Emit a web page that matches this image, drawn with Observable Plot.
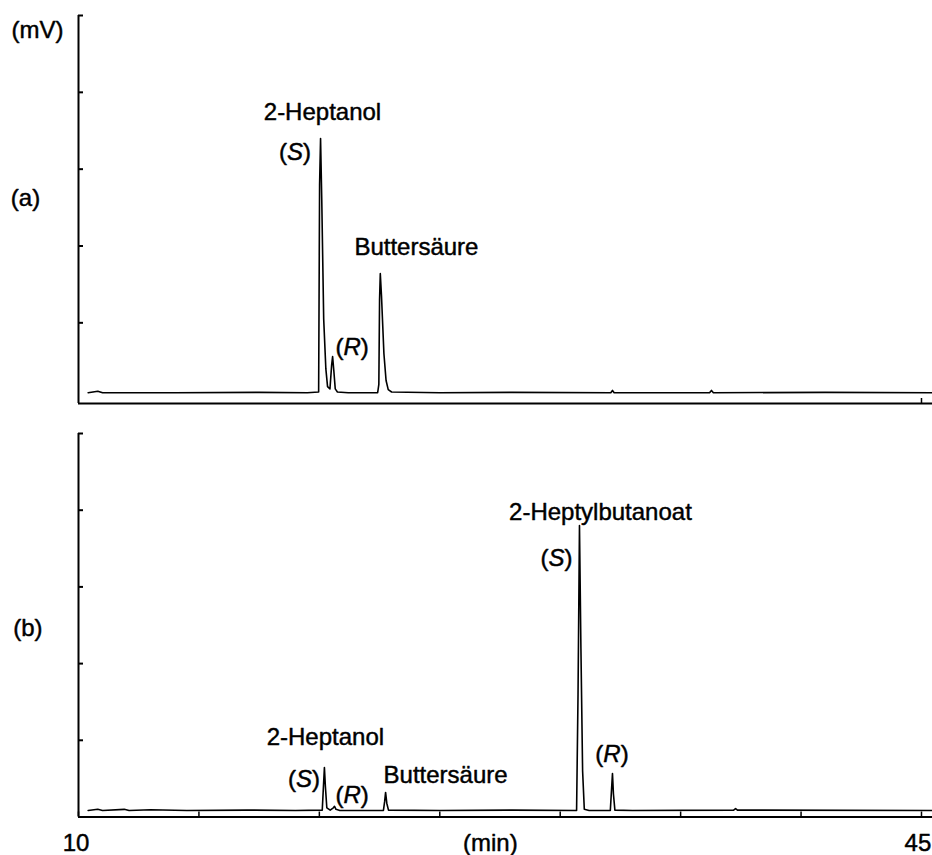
<!DOCTYPE html>
<html>
<head>
<meta charset="utf-8">
<script src="https://cdn.jsdelivr.net/npm/d3@7"></script>
<script src="https://cdn.jsdelivr.net/npm/@observablehq/plot@0.6"></script>
<style>
  body { margin: 0; background: #fff; }
  #chart { position: relative; width: 932px; height: 855px; }
  #chart svg { position: absolute; left: 0; overflow: visible; }
</style>
</head>
<body>
<div id="chart"></div>
<script>
// Chromatogram (a): retention time (min) and detector signal
const timeA = [10.40, 10.80, 11.00, 14.00, 17.50, 19.50, 19.97, 20.01, 20.05, 20.10, 20.18, 20.27, 20.34, 20.44,
  20.51, 20.55, 20.60, 20.66, 20.75, 21.20, 22.42, 22.47, 22.50, 22.53, 22.58, 22.68, 22.77, 22.86, 23.00,
  25.00, 28.00, 32.10, 32.17, 32.24, 36.20, 36.28, 36.36, 41.00, 45.45];
const signalA = [0.09, 0.11, 0.09, 0.09, 0.095, 0.09, 0.10, 2.80, 3.40, 2.60, 1.05, 0.40, 0.17, 0.14,
  0.45, 0.56, 0.38, 0.14, 0.10, 0.09, 0.09, 0.20, 1.30, 1.64, 1.35, 0.60, 0.25, 0.13, 0.10,
  0.09, 0.095, 0.09, 0.12, 0.09, 0.09, 0.12, 0.09, 0.095, 0.09];

// Chromatogram (b): retention time (min) and detector signal
const timeB = [10.40, 10.80, 11.00, 11.90, 12.10, 13.00, 14.50, 17.00, 19.00, 20.12, 20.17, 20.21, 20.25, 20.31,
  20.45, 20.58, 20.63, 20.69, 20.85, 22.66, 22.71, 22.75, 22.80, 22.87, 25.00, 28.00, 30.68, 30.74, 30.80,
  30.86, 30.93, 31.00, 31.20, 32.08, 32.13, 32.17, 32.21, 32.27, 33.00, 37.20, 37.28, 37.36, 45.45];
const signalB = [0.085, 0.10, 0.085, 0.10, 0.085, 0.095, 0.085, 0.09, 0.085, 0.09, 0.40, 0.645, 0.40, 0.12,
  0.09, 0.12, 0.14, 0.10, 0.085, 0.085, 0.20, 0.32, 0.18, 0.09, 0.085, 0.09, 0.085, 1.60, 3.80,
  2.20, 0.60, 0.10, 0.085, 0.085, 0.35, 0.567, 0.30, 0.09, 0.085, 0.09, 0.11, 0.09, 0.085];

// Axis ticks
const xTicks = [10, 15, 20, 25, 30, 35, 40, 45];
const yTicks = [1, 2, 3, 4, 5];

// Peak annotations, panel (a)
const labelTextA = ["(mV)", "(a)", "2-Heptanol", "(S)", "Buttersäure", "(R)"];
const labelTimeA = [8.30, 7.80, 20.13, 18.99, 24.03, 21.36];
const labelSignalA = [4.805, 2.62, 3.74, 3.22, 1.98, 0.68];

// Peak annotations, panel (b)
const labelTextB = ["(b)", "2-Heptylbutanoat", "(S)", "(R)", "2-Heptanol", "(S)", "(R)", "Buttersäure"];
const labelTimeB = [7.90, 31.67, 29.85, 32.15, 20.25, 19.36, 21.36, 25.24];
const labelSignalB = [2.46, 3.97, 3.37, 0.815, 1.04, 0.49, 0.28, 0.55];

// Time axis captions below panel (b)
const axisText = ["10", "(min)", "45"];
const axisTime = [9.9, 27.1, 44.85];

const font = "'Liberation Sans', Arial, Helvetica, sans-serif";
const xDomain = [10, 45.457];
const textStyle = {textAnchor: "middle", fontSize: 24, fill: "#000", stroke: "#000", strokeWidth: 0.45, fontFamily: font};

function rows(times, values) {
  return times.map((t, i) => ({t, v: values[i]}));
}

// Set the stereodescriptor letter of "(S)" / "(R)" in italics
function italicize(svg) {
  const ns = "http://www.w3.org/2000/svg";
  for (const node of svg.querySelectorAll("text")) {
    const m = node.textContent.match(/^\(([SR])\)$/);
    if (!m) continue;
    node.textContent = "(";
    const ts = document.createElementNS(ns, "tspan");
    ts.setAttribute("font-style", "italic");
    ts.textContent = m[1];
    node.append(ts, ")");
  }
  return svg;
}

function panel({times, values, labels, yDomain, height, marginTop, marginBottom, xTickValues, extra = []}) {
  return italicize(Plot.plot({
    width: 932,
    height,
    marginLeft: 78,
    marginRight: 0,
    marginTop,
    marginBottom,
    style: {fontFamily: font, background: "transparent", overflow: "visible"},
    x: {domain: xDomain, axis: null},
    y: {domain: yDomain, axis: null},
    marks: [
      Plot.line(rows(times, values), {x: "t", y: "v", stroke: "#000", strokeWidth: 1.6}),
      Plot.ruleX([xDomain[0]], {stroke: "#000", strokeWidth: 2}),
      Plot.ruleY([yDomain[0]], {stroke: "#000", strokeWidth: 2}),
      Plot.axisY(yTicks, {anchor: "left", tickSize: -5, tickFormat: () => "", label: null, stroke: "#000", strokeWidth: 2}),
      Plot.axisX(xTickValues, {anchor: "bottom", tickSize: -5, tickFormat: () => "", label: null, stroke: "#000", strokeWidth: 1.5}),
      Plot.text(labels, {x: "t", y: "v", text: "text", ...textStyle}),
      ...extra
    ]
  }));
}

const labelsA = labelTextA.map((text, i) => ({text, t: labelTimeA[i], v: labelSignalA[i]}));
const labelsB = labelTextB.map((text, i) => ({text, t: labelTimeB[i], v: labelSignalB[i]}));
const captions = axisText.map((text, i) => ({text, t: axisTime[i], v: -0.345}));

const panelA = panel({
  times: timeA, values: signalA, labels: labelsA,
  yDomain: [-0.05, 5], height: 410, marginTop: 15, marginBottom: 7,
  xTickValues: [45]
});
panelA.style.top = "0px";

const panelB = panel({
  times: timeB, values: signalB, labels: labelsB,
  yDomain: [0, 5], height: 445, marginTop: 23, marginBottom: 38.5,
  xTickValues: xTicks,
  extra: [Plot.text(captions, {x: "t", y: "v", text: "text", ...textStyle})]
});
panelB.style.top = "410px";

document.getElementById("chart").append(panelA, panelB);
</script>
</body>
</html>
